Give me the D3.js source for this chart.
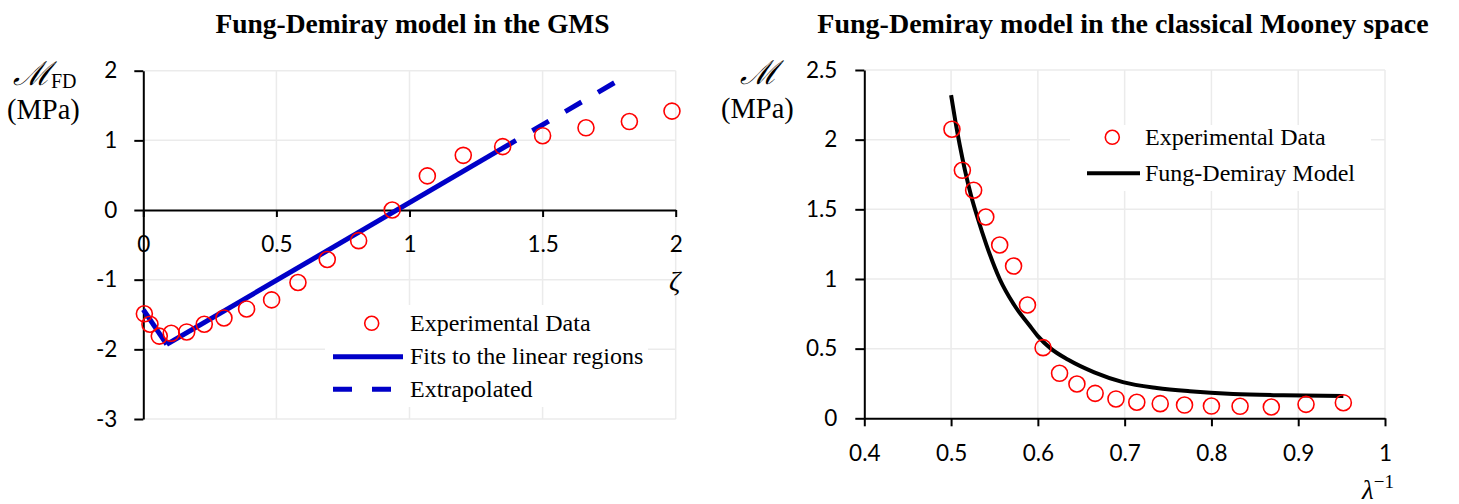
<!DOCTYPE html>
<html>
<head>
<meta charset="utf-8">
<script src="https://cdn.jsdelivr.net/npm/d3@7"></script>
<style>
  body { margin: 0; background: #fff; }
  svg { display: block; }
  .tick text { font-family: Lato, "Open Sans", sans-serif; font-size: 22.5px; fill: #000; }
  .serif { font-family: "Liberation Serif", "Times New Roman", serif; }
</style>
</head>
<body>
<svg width="1459" height="504"></svg>
<script>
// left panel: GMS
var zetaExp = [0.004, 0.025, 0.06, 0.105, 0.163, 0.229, 0.303, 0.388, 0.482, 0.581, 0.691, 0.809, 0.935, 1.067, 1.202, 1.35, 1.5, 1.663, 1.826, 1.986];
var mfdExp = [-1.49, -1.64, -1.81, -1.77, -1.75, -1.64, -1.55, -1.42, -1.29, -1.04, -0.71, -0.44, 0.0, 0.49, 0.785, 0.91, 1.067, 1.18, 1.27, 1.42];
var fit1Zeta = [0, 0.088], fit1M = [-1.43, -1.93];
var fit2Zeta = [0.088, 1.40], fit2M = [-1.93, 1.0];
var extZeta = [1.40, 1.78], extM = [1.0, 1.85];
var leftXTicks = [0, 0.5, 1, 1.5, 2];
var leftYTicks = [-3, -2, -1, 0, 1, 2];

// right panel: classical Mooney space
var invLambda = [0.501, 0.513, 0.526, 0.540, 0.556, 0.572, 0.588, 0.606, 0.625, 0.645, 0.666, 0.690, 0.714, 0.741, 0.769, 0.800, 0.833, 0.869, 0.909, 0.952];
var mExp = [2.075, 1.78, 1.637, 1.445, 1.244, 1.093, 0.813, 0.507, 0.323, 0.246, 0.179, 0.139, 0.115, 0.105, 0.095, 0.088, 0.086, 0.081, 0.100, 0.112];
var modelX = [0.500, 0.505, 0.510, 0.516, 0.523, 0.530, 0.541, 0.556, 0.572, 0.590, 0.600, 0.615, 0.635, 0.665, 0.698, 0.737, 0.775, 0.825, 0.883, 0.952];
var modelY = [2.32, 2.13, 1.96, 1.78, 1.60, 1.45, 1.24, 1.00, 0.82, 0.67, 0.59, 0.50, 0.42, 0.33, 0.26, 0.218, 0.194, 0.174, 0.165, 0.160];
var rightXTicks = [0.4, 0.5, 0.6, 0.7, 0.8, 0.9, 1];
var rightYTicks = [0, 0.5, 1, 1.5, 2, 2.5];

var svg = d3.select("svg");
var gridColor = "#ebebeb", blue = "#0000c8", red = "#ff0000";

function zip(a, b) { return a.map(function(v, i) { return [v, b[i]]; }); }
function plain(d) { return String(d); }   // keep hyphen minus like the original

// ---------- LEFT ----------
var xL = d3.scaleLinear().domain([0, 2]).range([143.3, 675.7]);
var yL = d3.scaleLinear().domain([-3, 2]).range([419, 70.7]);
var gL = svg.append("g");

gL.selectAll(".vg").data(leftXTicks.slice(1)).enter().append("line")
    .attr("x1", xL).attr("x2", xL).attr("y1", yL(2)).attr("y2", yL(-3))
    .attr("stroke", gridColor).attr("stroke-width", 1.5);
gL.selectAll(".hg").data(leftYTicks.filter(function(d) { return d != 0; })).enter().append("line")
    .attr("x1", xL(0)).attr("x2", xL(2)).attr("y1", yL).attr("y2", yL)
    .attr("stroke", gridColor).attr("stroke-width", 1.5);

// legend background
gL.append("rect").attr("x", 325).attr("y", 305).attr("width", 323).attr("height", 102).attr("fill", "#fff");

gL.append("g").attr("transform", "translate(" + xL(0) + ",0)")
    .call(d3.axisLeft(yL).tickValues(leftYTicks).tickSize(9).tickPadding(17).tickSizeOuter(0).tickFormat(plain));
var axLx = gL.append("g").attr("transform", "translate(0," + yL(0) + ")")
    .call(d3.axisBottom(xL).tickValues(leftXTicks).tickSize(7).tickSizeOuter(0).tickFormat(plain));
axLx.selectAll("text").attr("y", 42).attr("dy", null);
gL.selectAll(".domain, .tick line").attr("stroke", "#000").attr("stroke-width", 2);

var line = d3.line().x(function(d) { return xL(d[0]); }).y(function(d) { return yL(d[1]); });
gL.append("path").attr("d", line(zip(fit1Zeta, fit1M))).attr("fill", "none").attr("stroke", blue).attr("stroke-width", 5);
gL.append("path").attr("d", line(zip(fit2Zeta, fit2M))).attr("fill", "none").attr("stroke", blue).attr("stroke-width", 5);
gL.append("path").attr("d", line(zip(extZeta, extM))).attr("fill", "none").attr("stroke", blue).attr("stroke-width", 5)
    .attr("stroke-dasharray", "19,19").attr("stroke-dashoffset", 19);

gL.selectAll(".pt").data(zip(zetaExp, mfdExp)).enter().append("circle")
    .attr("cx", function(d) { return xL(d[0]); }).attr("cy", function(d) { return yL(d[1]); })
    .attr("r", 8).attr("fill", "none").attr("stroke", red).attr("stroke-width", 1.6);

// legend
gL.append("circle").attr("cx", 371.7).attr("cy", 323.3).attr("r", 7).attr("fill", "none").attr("stroke", red).attr("stroke-width", 1.6);
gL.append("line").attr("x1", 333).attr("x2", 403).attr("y1", 356.7).attr("y2", 356.7).attr("stroke", blue).attr("stroke-width", 5);
gL.append("line").attr("x1", 333).attr("x2", 403).attr("y1", 389.3).attr("y2", 389.3).attr("stroke", blue).attr("stroke-width", 5)
    .attr("stroke-dasharray", "19,20");
[["Experimental Data", 331], ["Fits to the linear regions", 364], ["Extrapolated", 397]].forEach(function(t) {
  gL.append("text").attr("class", "serif").attr("x", 410).attr("y", t[1]).attr("font-size", 24).text(t[0]);
});

svg.append("text").attr("class", "serif").attr("x", 412.5).attr("y", 33).attr("text-anchor", "middle")
    .attr("font-size", 27.5).attr("font-weight", "bold").text("Fung-Demiray model in the GMS");

// axis labels left
var lab = svg.append("text").attr("class", "serif").attr("x", 13).attr("y", 85).attr("font-size", 27);
lab.append("tspan").attr("font-family", "DejaVu Serif").attr("font-style", "italic").attr("font-size", 33).text("\u2133");
lab.append("tspan").attr("font-size", 20).attr("dy", 3).text("FD");
svg.append("text").attr("class", "serif").attr("x", 7).attr("y", 119).attr("font-size", 28.5).text("(MPa)");
svg.append("text").attr("class", "serif").attr("x", 669).attr("y", 290).attr("font-size", 28).attr("font-style", "italic").text("\u03b6");

// ---------- RIGHT ----------
var xR = d3.scaleLinear().domain([0.4, 1]).range([864.3, 1385]);
var yR = d3.scaleLinear().domain([0, 2.5]).range([418.3, 70]);
var gR = svg.append("g");

gR.selectAll(".vg").data(rightXTicks.slice(1)).enter().append("line")
    .attr("x1", xR).attr("x2", xR).attr("y1", yR(2.5)).attr("y2", yR(0))
    .attr("stroke", gridColor).attr("stroke-width", 1.5);
gR.selectAll(".hg").data(rightYTicks.slice(1)).enter().append("line")
    .attr("x1", xR(0.4)).attr("x2", xR(1)).attr("y1", yR).attr("y2", yR)
    .attr("stroke", gridColor).attr("stroke-width", 1.5);

gR.append("rect").attr("x", 1070).attr("y", 125).attr("width", 301).attr("height", 66).attr("fill", "#fff");

gR.append("g").attr("transform", "translate(" + xR(0.4) + ",0)")
    .call(d3.axisLeft(yR).tickValues(rightYTicks).tickSize(9).tickPadding(18).tickSizeOuter(0).tickFormat(plain));
var axRx = gR.append("g").attr("transform", "translate(0," + yR(0) + ")")
    .call(d3.axisBottom(xR).tickValues(rightXTicks).tickSize(8).tickSizeOuter(0).tickFormat(plain));
axRx.selectAll("text").attr("y", 43).attr("dy", null);
gR.selectAll(".domain, .tick line").attr("stroke", "#000").attr("stroke-width", 2);

var lineR = d3.line().curve(d3.curveMonotoneX).x(function(d) { return xR(d[0]); }).y(function(d) { return yR(d[1]); });
gR.append("path").attr("d", lineR(zip(modelX, modelY))).attr("fill", "none").attr("stroke", "#000").attr("stroke-width", 4);

gR.selectAll(".pt").data(zip(invLambda, mExp)).enter().append("circle")
    .attr("cx", function(d) { return xR(d[0]); }).attr("cy", function(d) { return yR(d[1]); })
    .attr("r", 8).attr("fill", "none").attr("stroke", red).attr("stroke-width", 1.6);

gR.append("circle").attr("cx", 1112.3).attr("cy", 137.3).attr("r", 7).attr("fill", "none").attr("stroke", red).attr("stroke-width", 1.6);
gR.append("line").attr("x1", 1087).attr("x2", 1140).attr("y1", 173.3).attr("y2", 173.3).attr("stroke", "#000").attr("stroke-width", 4);
gR.append("text").attr("class", "serif").attr("x", 1145).attr("y", 145).attr("font-size", 24).text("Experimental Data");
gR.append("text").attr("class", "serif").attr("x", 1145).attr("y", 181).attr("font-size", 24).text("Fung-Demiray Model");

svg.append("text").attr("class", "serif").attr("x", 1123).attr("y", 33).attr("text-anchor", "middle")
    .attr("font-size", 28).attr("font-weight", "bold")
    .text("Fung-Demiray model in the classical Mooney space");

svg.append("text").attr("x", 740).attr("y", 84).attr("font-family", "DejaVu Serif").attr("font-style", "italic").attr("font-size", 33).text("\u2133");
svg.append("text").attr("class", "serif").attr("x", 721).attr("y", 118).attr("font-size", 28.5).text("(MPa)");
var lam = svg.append("text").attr("class", "serif").attr("x", 1362).attr("y", 499).attr("font-size", 27).attr("font-style", "italic");
lam.append("tspan").text("\u03bb");
lam.append("tspan").attr("font-style", "normal").attr("font-size", 19).attr("dy", -11).text("\u22121");
</script>
</body>
</html>
